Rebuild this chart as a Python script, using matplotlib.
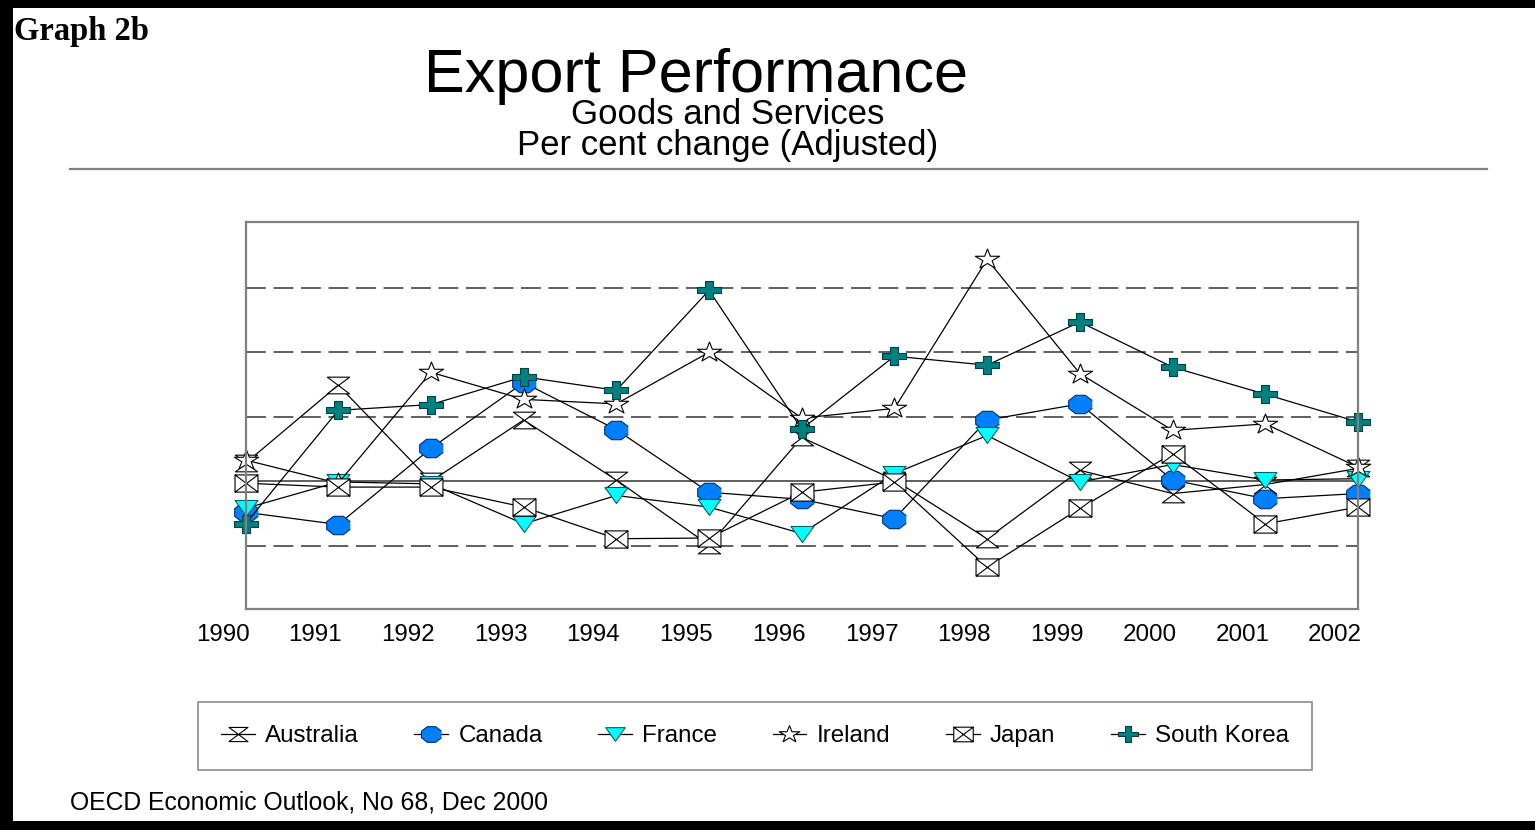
import matplotlib
matplotlib.use("Agg")
import matplotlib.pyplot as plt
import numpy as np
from matplotlib.path import Path
from matplotlib.patches import Rectangle
from matplotlib.transforms import ScaledTranslation

W, H = 1535, 830

years = ["1990", "1991", "1992", "1993", "1994", "1995", "1996",
         "1997", "1998", "1999", "2000", "2001", "2002"]

australia = [2.8, 14.9, 0.0, 9.5, 0.2, -9.9, 6.8, 0.2, -8.9, 1.7, -1.9, -0.5, 2.0]
canada = [-4.8, -6.7, 5.1, 15.3, 8.0, -1.7, -2.8, -5.8, 9.5, 12.0, 0.2, -2.7, -1.9]
france = [-4.2, -0.1, -0.4, -6.6, -2.2, -4.0, -8.1, 1.2, 7.1, -0.1, 2.6, 0.2, 0.4]
ireland = [3.3, -0.3, 16.9, 12.7, 12.0, 20.0, 9.8, 11.3, 34.4, 16.7, 7.9, 8.9, 2.2]
japan = [-0.3, -0.9, -0.9, -4.0, -8.9, -8.8, -1.7, -0.1, -13.3, -4.2, 4.3, -6.6, -4.0]
south_korea = [-6.6, 11.0, 11.9, 16.2, 14.1, 29.6, 8.1, 19.4, 18.0, 24.7, 17.7, 13.5, 9.2]

names = ["Australia", "Canada", "France", "Ireland", "Japan", "South Korea"]
series = [australia, canada, france, ireland, japan, south_korea]

# custom marker shapes (wider than tall)
hourglass = Path([(-1, .75), (1, .75), (-1, -.75), (1, -.75), (-1, .75)],
                 [Path.MOVETO, Path.LINETO, Path.LINETO, Path.LINETO, Path.CLOSEPOLY])
boxx = Path([(-1, -.75), (1, -.75), (1, .75), (-1, .75), (-1, -.75),
             (-1, -.75), (1, .75), (-1, .75), (1, -.75)],
            [Path.MOVETO, Path.LINETO, Path.LINETO, Path.LINETO, Path.CLOSEPOLY,
             Path.MOVETO, Path.LINETO, Path.MOVETO, Path.LINETO])
ang = np.linspace(0, 2 * np.pi, 9)[:-1] + np.pi / 8
octagon = Path(np.column_stack([np.cos(ang) / np.cos(np.pi / 8),
                                0.78 * np.sin(ang) / np.cos(np.pi / 8)]), closed=False)
tri = Path([(-1, .7), (1, .7), (0, -.7), (-1, .7)], closed=True)
a, b = 0.33, 0.75
plus = Path([(-a, b), (a, b), (a, a * b), (1, a * b), (1, -a * b), (a, -a * b), (a, -b),
             (-a, -b), (-a, -a * b), (-1, -a * b), (-1, a * b), (-a, a * b), (-a, b)], closed=True)
st = Path.unit_regular_star(5, 0.381966)
star = Path(st.vertices * [1.0, 0.82], st.codes)

styles = [
    dict(marker=hourglass, mfc="white", mec="black", ms=16),
    dict(marker=octagon, mfc="#0080FF", mec="#00306a", ms=17),
    dict(marker=tri, mfc="#00FFFF", mec="#006060", ms=16.5),
    dict(marker=star, mfc="white", mec="black", ms=17.5),
    dict(marker=boxx, mfc="white", mec="black", ms=16.5),
    dict(marker=plus, mfc="#008080", mec="#004040", ms=17),
]

fig = plt.figure(figsize=(W / 100, H / 100), dpi=100)
plt.rcParams['font.family'] = ['Liberation Sans', 'DejaVu Sans']

ax = fig.add_axes([245.5 / W, 1 - 609 / H, (1358 - 245.5) / W, (609 - 222) / H])
x = np.arange(len(years))
for name, vals, s in zip(names, series, styles):
    ax.plot(x, vals, color="black", lw=0.9, mew=0.8, label=name, clip_on=False, **s)

for g in [-10, 10, 20, 30]:
    ax.axhline(g, color="#333333", lw=1.1, ls=(0, (13, 5)), zorder=0)
ax.axhline(0, color="#333333", lw=1.1, zorder=0)

ax.set_xlim(0, 12)
ax.set_ylim(-19.8, 40.2)
ax.set_yticks([])
ax.set_xticks(x)
ax.set_xticklabels(years, fontsize=17.4)
ax.tick_params(axis="x", length=0, pad=11)
for lab in ax.get_xticklabels():
    lab.set_transform(lab.get_transform() + ScaledTranslation(-0.23, 0, fig.dpi_scale_trans))
for sp in ax.spines.values():
    sp.set_color("#808080")
    sp.set_linewidth(1.6)

leg = fig.legend(loc="center left", bbox_to_anchor=(198 / W, 1 - 736 / H), ncol=6,
                 fontsize=17.4, frameon=True, fancybox=False, edgecolor="#707070",
                 borderpad=0.95, borderaxespad=0, handlelength=1.4, handletextpad=0.42,
                 columnspacing=2.3, markerscale=0.85)
leg.get_frame().set_linewidth(1.2)

# header
fig.text(14 / W, 1 - 40 / H, "Graph 2b", family="Liberation Serif", weight="bold",
         fontsize=23.5, va="baseline")
fig.text(696 / W, 1 - 92 / H, "Export Performance", fontsize=44, ha="center", va="baseline")
fig.text(728 / W, 1 - 124 / H, "Goods and Services", fontsize=25, ha="center", va="baseline")
fig.text(728 / W, 1 - 155 / H, "Per cent change (Adjusted)", fontsize=25, ha="center", va="baseline")
fig.add_artist(plt.Line2D([70 / W, 1487 / W], [1 - 169 / H] * 2, color="#808080", lw=1.6))
fig.text(70 / W, 1 - 809 / H, "OECD Economic Outlook, No 68, Dec 2000", fontsize=17.8, va="baseline")

# black frame
for r in [(0, 1 - 8.5 / H, 1, 8.5 / H), (0, 0, 13 / W, 1), (0, 0, 1, 9.5 / H)]:
    fig.add_artist(Rectangle(r[:2], r[2], r[3], transform=fig.transFigure, color="black", lw=0))

fig.savefig("out.png", dpi=100)
